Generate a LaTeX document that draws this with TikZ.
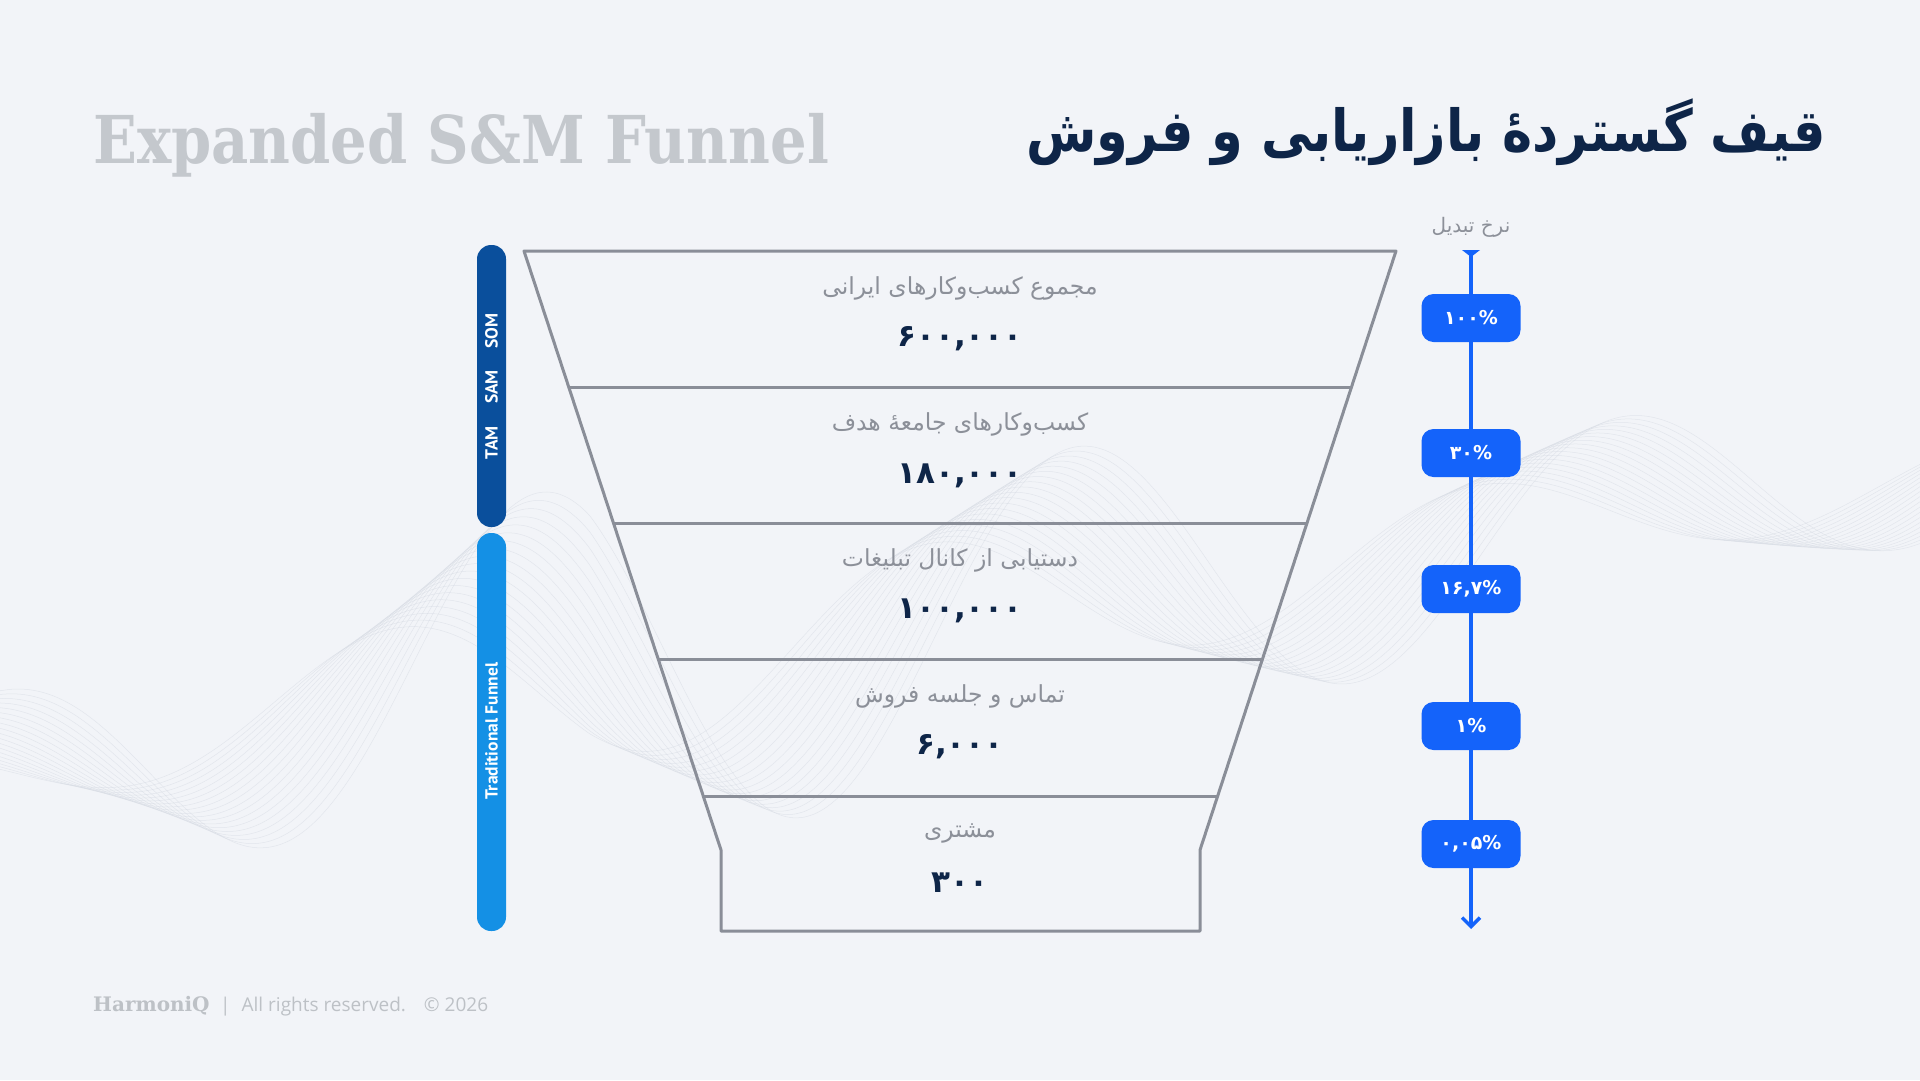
\documentclass[tikz,border=0pt]{standalone}
\usepackage{fontspec}
\usepackage{graphicx}
\usetikzlibrary{arrows.meta}
\TeXXeTstate=1
\newfontfamily\arabicfont[Script=Arabic]{DejaVu Sans}
\newfontfamily\slabfont{DejaVu Serif}
\newfontfamily\barfont{PT Sans}
\newfontfamily\footfont{Open Sans}
\definecolor{bg}{HTML}{F2F4F8}
\definecolor{navy}{HTML}{0E2548}
\definecolor{engray}{HTML}{C4C8CD}
\definecolor{funnelgray}{HTML}{8A8E98}
\definecolor{labelgray}{HTML}{8C9099}
\definecolor{darkbar}{HTML}{0A4F9C}
\definecolor{lightbar}{HTML}{1490E5}
\definecolor{flowblue}{HTML}{1463FA}
\definecolor{footgray}{HTML}{BDC1C6}
\definecolor{waveclr}{HTML}{D3D8E1}
\tikzset{
  wave/.style={draw=waveclr, line width=0.5pt, opacity=0.5},
  funnelline/.style={draw=funnelgray, line width=3pt, line join=round},
  stagelabel/.style={text=labelgray, font=\arabicfont\fontsize{23.5}{28}\selectfont, inner sep=0pt},
  stagenum/.style={text=navy, font=\arabicfont\bfseries\fontsize{31}{36}\selectfont, inner sep=0pt},
  pill/.style={fill=flowblue, rounded corners=12pt, minimum width=99pt, minimum height=48pt, inner sep=0pt, text=white, font=\arabicfont\bfseries\fontsize{19}{22}\selectfont},
  flow/.style={draw=flowblue, line width=3.5pt},
  bartext/.style={text=white, font=\barfont\bfseries\fontsize{17.5}{20}\selectfont, rotate=90, inner sep=0pt}
}
\begin{document}
\begin{tikzpicture}[x=1pt,y=-1pt]
\useasboundingbox (0,0) rectangle (1920,1080);
\fill[bg] (0,0) rectangle (1920,1080);
% decorative waves
\foreach \k in {0,...,18}{
  \draw[wave] plot[domain=0:1920,samples=180,smooth] (\x,{760-0.15*\x-(0.55+0.035*\k)*min(60+0.183*\x,215-0.08*\x)*sin((\x-250-8*\k)/550*360)});
}
% titles
\node[anchor=base west, inner sep=0pt, text=engray] (entitle) at (93,163) {\scalebox{0.872}[1]{\slabfont\bfseries\fontsize{66}{76}\selectfont Expanded S\&M Funnel}};
\node[anchor=east, inner sep=0pt, text=navy] (fatitle) at (1826,132) {\scalebox{0.88}[1]{\arabicfont\bfseries\fontsize{58}{70}\selectfont\beginR قیف گستردهٔ بازاریابی و فروش\endR}};
% side bars
\fill[darkbar, rounded corners=14pt] (477,245) rectangle (506,527);
\fill[lightbar, rounded corners=14pt] (477,533) rectangle (506,931);
\node[bartext] (som) at (491.5,331) {SOM};
\node[bartext] (sam) at (491.5,387) {SAM};
\node[bartext] (tam) at (491.5,443) {TAM};
\node[bartext] (trad) at (491.5,731) {Traditional Funnel};
% funnel
\draw[funnelline] (524,251) -- (1396,251) -- (1200,850) -- (1200,931) -- (721,931) -- (721,850) -- cycle;
\draw[funnelline] (568,387) -- (1352,387);
\draw[funnelline] (613,523) -- (1307,523);
\draw[funnelline] (658,659) -- (1262,659);
\draw[funnelline] (704,796) -- (1217,796);
% stage texts
\node[stagelabel] (l1) at (960,288) {\beginR مجموع کسب‌وکارهای ایرانی\endR};
\node[stagenum] (n1) at (960,339) {۶۰۰,۰۰۰};
\node[stagelabel] (l2) at (960,424) {\beginR کسب‌وکارهای جامعهٔ هدف\endR};
\node[stagenum] (n2) at (960,476) {۱۸۰,۰۰۰};
\node[stagelabel] (l3) at (960,560) {\beginR دستیابی از کانال تبلیغات\endR};
\node[stagenum] (n3) at (960,611) {۱۰۰,۰۰۰};
\node[stagelabel] (l4) at (960,696) {\beginR تماس و جلسه فروش\endR};
\node[stagenum] (n4) at (960,747) {۶,۰۰۰};
\node[stagelabel] (l5) at (960,833) {\beginR مشتری\endR};
\node[stagenum] (n5) at (960,883) {۳۰۰};
% conversion rate
\node[text=labelgray, font=\arabicfont\fontsize{20}{24}\selectfont, inner sep=0pt] (rate) at (1471,227) {\beginR نرخ تبدیل\endR};
\coordinate (ctop) at (1471,251);
\coordinate (cbot) at (1471,929);
\fill[flowblue] (1462,250) -- (1480,250) -- (1471,257) -- cycle;
\node[pill] (p1) at (1471,318) {۱۰۰\%};
\node[pill] (p2) at (1471,453) {۳۰\%};
\node[pill] (p3) at (1471,589) {۱۶,۷\%};
\node[pill] (p4) at (1471,726) {۱\%};
\node[pill] (p5) at (1471,844) {۰,۰۵\%};
\draw[flow] (ctop) -- (p1);
\draw[flow] (p1) -- (p2);
\draw[flow] (p2) -- (p3);
\draw[flow] (p3) -- (p4);
\draw[flow] (p4) -- (p5);
\draw[flow, -{Straight Barb[length=9pt,width=18pt,line width=3.5pt]}] (p5) -- (cbot);
% footer
\node[anchor=base west, inner sep=0pt, text=footgray, font=\slabfont\bfseries\fontsize{20}{24}\selectfont] (brand) at (93,1011) {HarmoniQ};
\node[anchor=base west, inner sep=0pt, text=footgray, font=\footfont\fontsize{19}{23}\selectfont] (rights) at (220,1011) {|\hspace{11pt}All rights reserved.\hspace{18pt}© 2026};
\end{tikzpicture}
\end{document}
